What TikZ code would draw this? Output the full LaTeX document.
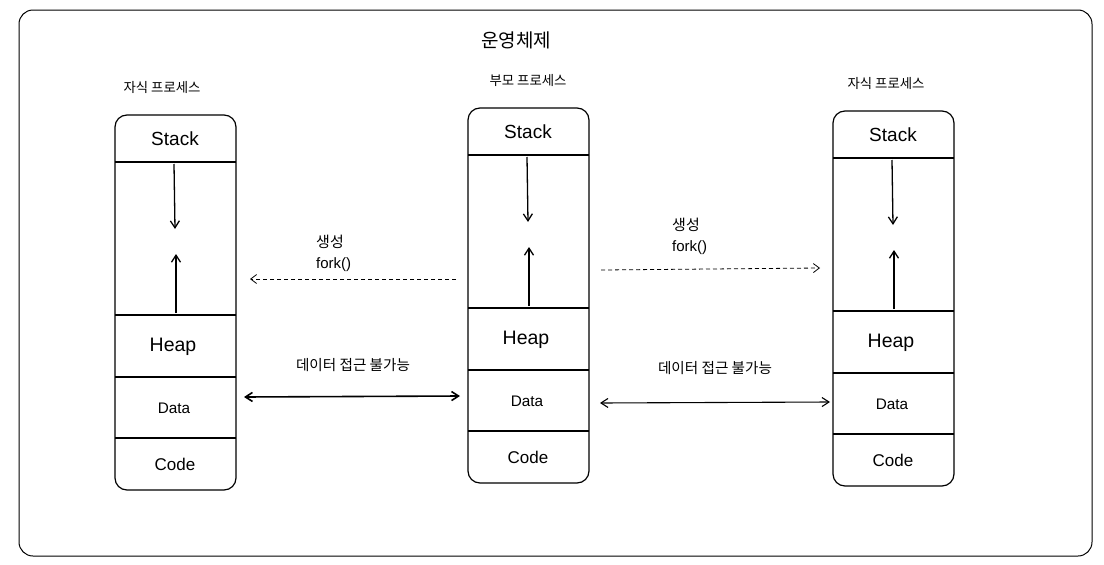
\documentclass[tikz,border=0pt]{standalone}
\usepackage{fontspec}
\setmainfont{Liberation Sans}
\newfontfamily\kr{Noto Sans CJK KR}
\usetikzlibrary{arrows.meta}
\tikzset{
  frame/.style={draw, line width=1pt, rounded corners=14pt, minimum width=1073pt, minimum height=546pt, inner sep=0pt},
  procbox/.style={draw, line width=1.2pt, rounded corners=12pt, minimum width=121pt, minimum height=375pt, inner sep=0pt},
  divider/.style={line width=1.2pt},
  stacktext/.style={font=\fontsize{19}{22}\selectfont},
  heaptext/.style={font=\fontsize{19.5}{22}\selectfont},
  codetext/.style={font=\fontsize{17}{20}\selectfont},
  datatext/.style={font=\fontsize{15.3}{18}\selectfont},
  krlabel/.style={font=\kr\fontsize{13.4}{16}\selectfont},
  krlong/.style={font=\kr\fontsize{14.6}{17}\selectfont},
  forklabel/.style={align=left, anchor=north west, inner sep=0pt, font=\fontsize{15}{21}\selectfont},
  growarrow/.style={line width=1.3pt, -{Straight Barb[length=7pt,width=9pt]}},
  forkarrow/.style={line width=0.8pt, dash pattern=on 4pt off 3pt, -{Straight Barb[length=6pt,width=9pt]}},
  noaccess/.style={line width=1.1pt, {Straight Barb[length=7pt,width=9pt]}-{Straight Barb[length=7pt,width=9pt]}},
}
\newcommand\drawproc[5]{%
  \node[procbox] (#1) at ({#2+60.5},{#3+187.5}) {};
  \node[krlabel] (#1-label) at ({#2+#5},{#3-28}) {#4};
  \coordinate (#1-d1a) at (#2,{#3+47});
  \coordinate (#1-d1b) at ({#2+121},{#3+47});
  \coordinate (#1-d2a) at (#2,{#3+200});
  \coordinate (#1-d2b) at ({#2+121},{#3+200});
  \coordinate (#1-d3a) at (#2,{#3+262});
  \coordinate (#1-d3b) at ({#2+121},{#3+262});
  \coordinate (#1-d4a) at (#2,{#3+323});
  \coordinate (#1-d4b) at ({#2+121},{#3+323});
  \draw[divider] (#1-d1a) -- (#1-d1b);
  \draw[divider] (#1-d2a) -- (#1-d2b);
  \draw[divider] (#1-d3a) -- (#1-d3b);
  \draw[divider] (#1-d4a) -- (#1-d4b);
  \node[stacktext] (#1-stack) at ({#2+60},{#3+24}) {Stack};
  \node[heaptext] (#1-heap) at ({#2+58},{#3+232}) {Heap};
  \node[datatext] (#1-data) at ({#2+59},{#3+293}) {Data};
  \node[codetext] (#1-code) at ({#2+60},{#3+349}) {Code};
  \coordinate (#1-downa) at ({#2+59},{#3+49});
  \coordinate (#1-downb) at ({#2+60},{#3+114});
  \coordinate (#1-upa) at ({#2+61},{#3+198});
  \coordinate (#1-upb) at ({#2+61},{#3+139});
  \draw[growarrow] (#1-downa) -- (#1-downb);
  \draw[growarrow] (#1-upa) -- (#1-upb);
}
\begin{document}
\begin{tikzpicture}[x=1pt,y=-1pt]
\useasboundingbox (0,0) rectangle (1104,565);
\node[frame] (os) at (555.5,283) {};
\node[font=\kr\fontsize{19}{22}\selectfont] (title) at (516,40) {운영체제};

\drawproc{left}{115}{115}{자식 프로세스}{47}
\drawproc{parent}{468}{108}{부모 프로세스}{60}
\drawproc{right}{833}{111}{자식 프로세스}{53}

% fork arrows
\coordinate (fl1) at (456,279);
\coordinate (fl2) at (250,279);
\draw[forkarrow] (fl1) -- (fl2);
\node[forklabel] (forkl) at (316,235)
  {{\kr\fontsize{15}{17}\selectfont 생성}\\{fork()}};

\coordinate (fr1) at (601,270);
\coordinate (fr2) at (820,268);
\draw[forkarrow] (fr1) -- (fr2);
\node[forklabel] (forkr) at (672,218)
  {{\kr\fontsize{15}{17}\selectfont 생성}\\{fork()}};

% no data access arrows
\coordinate (nl1) at (244,397);
\coordinate (nl2) at (460,396);
\draw[noaccess, line width=1.6pt] (nl1) -- (nl2);
\node[krlong] (nal) at (353,365) {데이터 접근 불가능};

\coordinate (nr1) at (600,403);
\coordinate (nr2) at (830,402);
\draw[noaccess] (nr1) -- (nr2);
\node[krlong] (nar) at (715,368) {데이터 접근 불가능};
\end{tikzpicture}
\end{document}
